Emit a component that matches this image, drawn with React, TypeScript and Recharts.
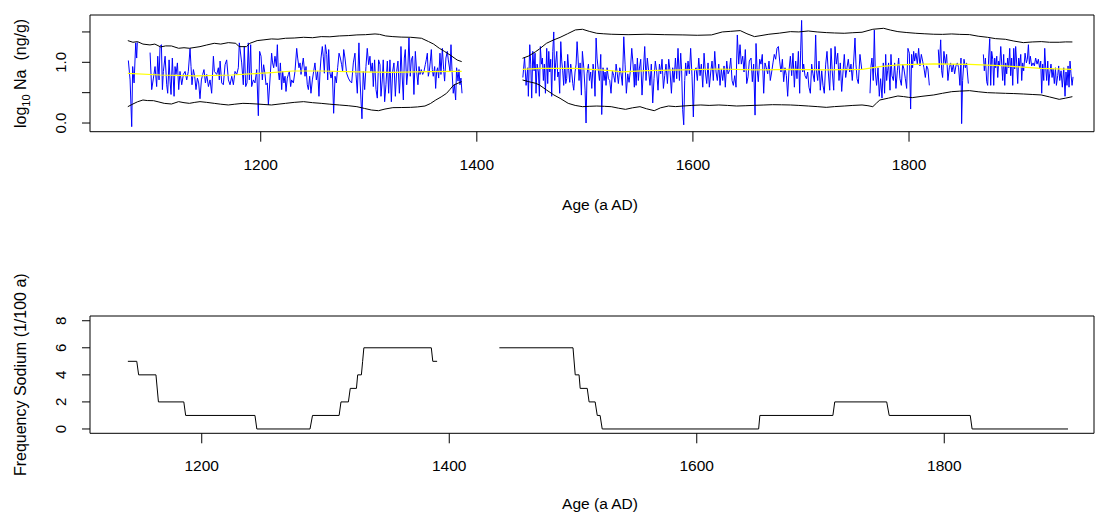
import React from 'react';
import { LineChart, Line, XAxis, YAxis, ReferenceArea } from 'recharts';

const FONT = '"Liberation Sans", Arial, Helvetica, sans-serif';

// ---- top panel: log10 Na (ng/g) ----
const naSeg1: [number, number | null][] = [
  [1077.5, 1.03], [1079.1, 0.71], [1080.6, -0.06], [1081.5, 0.93], [1082.8, 0.66], [1084.3, 1.32], [1085.2, 1.07], [1085.8, 1.33], [1091, null],
  [1097.6, 1.16], [1099.1, 0.55], [1100.7, 0.74], [1102.2, 0.93], [1103.7, 0.6], [1104.7, 1.1], [1105.9, 0.71], [1106.8, 1.26], [1108.1, 1.29],
  [1109, 0.55], [1109.9, 0.85], [1111.5, 1.1], [1113, 0.63], [1113.9, 0.49], [1115.2, 1.04], [1116.1, 0.69], [1117, 0.47], [1118.2, 1.07],
  [1119.8, 0.44], [1120.7, 0.93], [1121.6, 0.8], [1122.9, 0.99], [1124.1, 0.55], [1125.3, 0.85], [1126.9, 0.63], [1128.4, 0.8], [1130, 0.85],
  [1131.5, 0.71], [1133, 0.85], [1134.6, 1.23], [1135.5, 0.93], [1136.4, 0.63], [1137.7, 0.88], [1138.9, 0.77], [1140.1, 0.55], [1141.4, 0.74],
  [1142.6, 0.66], [1143.8, 0.4], [1145.1, 0.71], [1146.3, 0.8], [1147.5, 0.88], [1148.8, 0.66], [1150, 0.8], [1151.6, 0.6], [1153.1, 0.71],
  [1154.6, 0.49], [1156.2, 1.1], [1157.1, 0.85], [1159.3, 0.8], [1160.8, 0.91], [1161.7, 0.71], [1162.4, 1.02], [1163.9, 0.66], [1165.4, 0.63],
  [1167, 0.96], [1168.5, 1.04], [1170.1, 0.71], [1171.6, 0.63], [1173.2, 0.77], [1174.7, 0.63], [1176.2, 0.85], [1177.8, 0.8], [1179.3, 0.91],
  [1180.2, 1.32], [1182.4, 0.99], [1183.9, 0.63], [1184.8, 1.26], [1186.1, 0.6], [1187.3, 0.66], [1188.5, 1.32], [1189.5, 0.71], [1190.7, 1.29],
  [1191.6, 0.6], [1193.2, 0.71], [1194.7, 0.66], [1196.3, 0.88], [1197.8, 0.12], [1199, 1.18], [1200.3, 1.1], [1201.5, 0.71], [1202.7, 0.96],
  [1204, 0.8], [1204.9, 0.63], [1206.1, 0.66], [1207.1, 0.3], [1210.1, 1.15], [1211, 0.99], [1212, 0.91], [1213.2, 1.1], [1214.5, 0.93],
  [1215.4, 1.29], [1216.3, 0.85], [1217.2, 0.71], [1218.2, 0.99], [1219.4, 0.55], [1220.3, 0.85], [1221.5, 0.66], [1222.5, 0.77], [1223.4, 0.52],
  [1224.6, 0.74], [1225.6, 0.8], [1226.5, 0.85], [1227.7, 0.6], [1228.6, 0.71], [1230.2, 0.66], [1231.7, 0.85], [1233.3, 1.23], [1234.2, 1.07],
  [1235.4, 0.91], [1236.4, 0.99], [1237.3, 0.8], [1237.9, 0.88], [1239.4, 1.07], [1241, 0.77], [1241.9, 0.93], [1243.1, 0.63], [1244.1, 0.55],
  [1245.3, 0.77], [1246.5, 0.49], [1247.8, 0.71], [1249, 0.85], [1250.2, 0.99], [1251.5, 0.71], [1252.7, 0.85], [1253.9, 0.44], [1254.9, 0.85],
  [1255.8, 1.07], [1257, 1.26], [1257.9, 1.1], [1258.9, 0.82], [1259.8, 1.29], [1261.1, 1.13], [1262, 0.71], [1262.9, 1.21], [1263.8, 0.85],
  [1265.1, 0.74], [1266.3, 0.85], [1267.5, 0.16], [1268.8, 0.77], [1270, 0.66], [1271.2, 0.91], [1272.5, 1.15], [1273.7, 1.07], [1274.9, 0.96],
  [1275.8, 0.85], [1276.8, 1.21], [1278, 1.07], [1279.5, 0.82], [1281.1, 0.74], [1282.6, 0.69], [1284.2, 0.66], [1285.7, 0.99], [1287.2, 1.15],
  [1288.2, 0.8], [1289.4, 0.49], [1290.9, 1.32], [1291.9, 0.71], [1292.8, 0.38], [1293.7, 0.07], [1294.9, 0.85], [1296.2, 0.55], [1297.4, 0.93],
  [1298.6, 1.23], [1299.9, 0.96], [1301.1, 1.1], [1302, 0.85], [1303.3, 0.99], [1304.2, 0.6], [1305.4, 1.04], [1306.7, 0.55], [1307.9, 0.41],
  [1309.1, 1.04], [1310.4, 0.96], [1311.3, 0.44], [1312.5, 0.71], [1313.4, 1.04], [1314.7, 0.35], [1315.9, 0.63], [1317.2, 1.02], [1318.4, 0.49],
  [1319.6, 1.04], [1320.9, 0.35], [1322.1, 0.85], [1323.3, 0.99], [1324.6, 0.44], [1325.8, 0.85], [1327, 1.02], [1328.3, 0.49], [1328.9, 0.66],
  [1329.8, 1.26], [1330.7, 0.85], [1332, 0.38], [1332.9, 1.07], [1333.8, 1.21], [1335.1, 0.63], [1336, 0.82], [1337.2, 1.4], [1338.4, 0.77],
  [1339.4, 1.04], [1340.6, 1.1], [1341.8, 0.47], [1343.1, 1.18], [1344.3, 0.85], [1345.5, 0.63], [1346.5, 0.93], [1347.4, 0.8], [1348.6, 0.88],
  [1349.9, 0.8], [1351.1, 0.85], [1352.3, 0.96], [1353.2, 1.04], [1354.2, 1.15], [1355.1, 0.77], [1356, 0.85], [1357, 1.02], [1357.9, 1.21],
  [1358.8, 0.88], [1359.7, 0.77], [1361, 0.93], [1361.9, 0.57], [1362.8, 0.85], [1363.7, 0.91], [1364.7, 0.74], [1365.9, 1.15], [1366.8, 0.8],
  [1368.1, 1.23], [1369.3, 0.88], [1370.2, 0.69], [1371.4, 1.07], [1372.7, 1.18], [1373.6, 1.04], [1375.2, 0.85], [1376.1, 1.29], [1377, 0.88],
  [1378.2, 0.49], [1379.2, 0.63], [1380.4, 0.38], [1381.3, 0.91], [1382.6, 0.69], [1383.5, 0.88], [1384.4, 0.63], [1385.3, 0.74], [1386.3, 0.49],
];

const naSeg2: [number, number | null][] = [
  [1442.6, 0.75], [1444.2, 1.08], [1445.6, 0.62], [1447.1, 0.91], [1447.7, 0.44], [1449, 1.29], [1449.9, 0.97], [1450.8, 0.41], [1451.8, 1.18],
  [1453, 0.86], [1453.9, 1.15], [1454.8, 0.49], [1455.8, 0.97], [1457, 0.84], [1457.9, 0.44], [1458.8, 1.26], [1459.8, 0.97], [1460.7, 1.07],
  [1461.6, 0.7], [1462.5, 0.97], [1463.5, 0.49], [1464.7, 1.23], [1465.6, 0.65], [1466.6, 1.18], [1467.5, 0.84], [1468.4, 1.05], [1469.3, 0.44],
  [1470.3, 1.18], [1471.2, 1.5], [1472.1, 0.7], [1473, 0.99], [1474, 1.18], [1474.9, 0.76], [1475.8, 0.84], [1476.7, 0.49], [1477.7, 1.34],
  [1478.6, 1.02], [1479.5, 0.86], [1480.4, 0.62], [1481.4, 1.02], [1482.3, 0.65], [1483.2, 0.73], [1484.1, 1.13], [1485.1, 0.86], [1486, 0.67],
  [1486.9, 0.97], [1487.8, 0.84], [1488.8, 0.65], [1489.7, 0.54], [1490.9, 0.84], [1491.9, 0.97], [1492.8, 1.34], [1493.7, 1.07], [1494.6, 0.7],
  [1495.6, 0.99], [1496.8, 0.46], [1497.7, 1.18], [1499, 0.91], [1500.2, 0.54], [1501.1, 0.0], [1502, 0.81], [1503.3, 0.97], [1504.2, 0.7],
  [1505.4, 0.84], [1506.4, 0.57], [1507.6, 0.97], [1508.5, 0.84], [1509.4, 0.44], [1510.4, 1.4], [1511.3, 1.07], [1512.5, 0.86], [1513.5, 0.7],
  [1514.7, 1.13], [1515.6, 0.14], [1516.8, 0.91], [1517.8, 0.7], [1518.7, 0.84], [1519.6, 0.62], [1520.6, 0.91], [1521.8, 0.73], [1523, 0.7],
  [1524.2, 0.49], [1525.5, 0.86], [1526.7, 0.78], [1527.9, 0.67], [1528.9, 0.97], [1529.8, 0.84], [1531, 0.65], [1532.3, 0.91], [1533.5, 0.81],
  [1534.7, 0.62], [1536, 1.42], [1537.2, 0.97], [1538.4, 0.49], [1539.7, 0.81], [1540.9, 0.67], [1542.1, 0.86], [1543.4, 1.23], [1544.6, 0.97],
  [1545.8, 0.59], [1546.4, 0.97], [1547.4, 0.62], [1548.6, 1.07], [1549.5, 0.7], [1550.4, 0.89], [1551.7, 1.05], [1552.9, 0.46], [1554.1, 0.84],
  [1555.4, 1.26], [1556.6, 0.7], [1557.8, 1.07], [1559.1, 0.84], [1560.3, 0.62], [1561.5, 0.97], [1562.8, 0.33], [1564, 0.73], [1565.2, 1.02],
  [1566.5, 0.84], [1567.7, 0.54], [1569, 0.97], [1570.2, 0.81], [1571.4, 1.05], [1572.7, 0.57], [1573.9, 0.78], [1575.1, 0.97], [1576.4, 0.65],
  [1577.6, 1.05], [1578.8, 0.86], [1580.1, 0.49], [1581.3, 0.91], [1582.5, 0.67], [1583.8, 1.07], [1585, 0.73], [1586.2, 1.23], [1587.5, 0.7],
  [1588.7, 1.15], [1589.6, 0.84], [1590.5, 0.22], [1591.5, -0.03], [1592.4, 0.7], [1593.3, 0.99], [1594.2, 0.78], [1595.5, 1.02], [1596.7, 0.81],
  [1597.9, 1.23], [1599.2, 0.76], [1600.4, 0.1], [1601.6, 0.86], [1602.9, 0.91], [1604.1, 0.7], [1605.4, 1.07], [1606.6, 0.78], [1607.8, 0.97],
  [1609.1, 0.59], [1610.3, 1.15], [1611.5, 0.84], [1612.8, 0.65], [1614, 0.99], [1615.2, 0.59], [1616.5, 0.84], [1617.7, 1.02], [1618.9, 0.7],
  [1620.2, 1.18], [1621.4, 0.84], [1622.6, 0.7], [1623.9, 0.97], [1625.1, 0.62], [1626.3, 0.89], [1627.6, 0.7], [1628.8, 0.94], [1630, 0.59],
  [1631.3, 1.02], [1632.5, 0.81], [1633.7, 0.86], [1635, 1.07], [1636.2, 0.7], [1637.4, 0.62], [1638.7, 0.78], [1639.9, 0.59], [1641.1, 1.45],
  [1642.4, 0.97], [1643.6, 1.29], [1644.8, 0.97], [1646.1, 1.1], [1647.3, 0.84], [1648.5, 1.21], [1649.8, 0.65], [1651, 0.76], [1652.2, 1.02],
  [1653.8, 1.07], [1655, 0.68], [1656.2, 0.97], [1657.5, 0.13], [1658.4, 1.31], [1659.3, 0.91], [1660.5, 0.68], [1661.8, 1.05], [1663, 0.97],
  [1664.2, 1.13], [1665.5, 0.49], [1666.7, 0.99], [1667.9, 0.91], [1669.2, 0.81], [1670.4, 1.02], [1671.6, 0.7], [1672.9, 0.84], [1674.1, 0.99],
  [1675.3, 1.13], [1676.6, 1.05], [1677.8, 1.23], [1679.1, 1.26], [1680.3, 1.02], [1681.5, 0.84], [1682.8, 1.05], [1684, 0.68], [1685.2, 0.91],
  [1686.5, 0.78], [1687.7, 0.44], [1688.9, 0.86], [1690.2, 1.1], [1691.4, 0.78], [1692.6, 1.15], [1693.9, 0.59], [1695.1, 1.02], [1696.3, 0.73],
  [1697.6, 1.18], [1698.8, 0.49], [1699.7, 1.2], [1700.6, 1.69], [1701.6, 0.84], [1702.5, 0.97], [1703.7, 0.78], [1705, 0.73], [1706.2, 0.84],
  [1707.4, 0.59], [1708.7, 0.49], [1709.9, 0.97], [1711.1, 0.81], [1712.4, 0.68], [1713.6, 1.45], [1714.5, 0.84], [1715.5, 0.7], [1716.7, 1.02],
  [1717.9, 0.54], [1719.2, 0.86], [1720.4, 0.62], [1721.6, 0.49], [1722.9, 0.97], [1724.1, 1.18], [1725.3, 0.84], [1726.6, 0.54], [1727.8, 1.23],
  [1729, 0.84], [1730.3, 0.54], [1731.5, 1.26], [1732.7, 0.97], [1734, 1.15], [1735.2, 0.7], [1736.4, 0.99], [1737.7, 0.52], [1738.9, 0.84],
  [1740.1, 1.13], [1741.4, 0.75], [1742.6, 0.91], [1743.8, 1.05], [1745.1, 0.84], [1746.3, 0.97], [1747.5, 0.7], [1748.8, 1.02], [1750, 1.4],
  [1750.9, 0.97], [1751.9, 0.73], [1753.1, 0.65], [1754.6, 1.13], [1756.2, 0.89], [1760, null],
  [1763.9, 0.49], [1764.8, 0.94], [1765.7, 1.07], [1766.9, 0.7], [1767.9, 1.53], [1768.8, 0.84], [1770, 0.62], [1771.3, 0.91], [1772.5, 0.44],
  [1773.7, 0.73], [1775, 0.41], [1776.2, 0.99], [1777.4, 0.49], [1778.4, 1.13], [1779.3, 0.7], [1780.2, 0.86], [1781.1, 0.99], [1782.4, 0.54],
  [1783.3, 1.13], [1784.2, 0.78], [1785.5, 0.7], [1786.7, 0.99], [1787.9, 0.57], [1789.2, 0.86], [1790.4, 1.07], [1791.6, 0.73], [1792.9, 0.62],
  [1794.1, 0.97], [1795.3, 0.89], [1796.6, 0.73], [1797.8, 0.57], [1799, 1.23], [1800.3, 1.15], [1801.5, 0.23], [1802.4, 1.13], [1803.3, 0.91],
  [1804.3, 1.18], [1805.2, 1.02], [1806.4, 1.15], [1807.7, 0.97], [1808.9, 1.23], [1810.1, 0.94], [1811.4, 1.13], [1812.6, 1.02], [1813.8, 0.91],
  [1815.1, 0.75], [1816.3, 0.94], [1817.5, 0.89], [1818.8, 0.62], [1822, null],
  [1827.1, 1.21], [1828, 0.91], [1829.3, 1.37], [1830.2, 0.86], [1831.1, 0.75], [1832.3, 1.18], [1833.6, 0.97], [1834.8, 1.13], [1836, 0.7],
  [1837.3, 0.91], [1838.5, 0.99], [1839.7, 0.84], [1841, 0.97], [1842.2, 0.81], [1843.4, 0.94], [1844.7, 0.99], [1845.9, 0.91], [1847.1, 0.62],
  [1848.1, 1.07], [1848.7, -0.01], [1849.6, 0.7], [1850.9, 1.05], [1852.1, 0.91], [1853.3, 0.99], [1854.9, 0.65], [1861, null],
  [1868.8, 1.13], [1869.7, 0.86], [1870.7, 1.07], [1871.9, 0.68], [1872.8, 0.62], [1873.7, 1.07], [1874.7, 1.39], [1875.6, 0.62], [1876.5, 1.18],
  [1877.5, 1.05], [1878.4, 0.62], [1879.3, 1.07], [1880.2, 0.91], [1881.2, 1.1], [1882.1, 0.75], [1883, 1.02], [1883.9, 0.94], [1884.9, 1.26],
  [1885.8, 0.97], [1886.7, 0.7], [1887.6, 1.13], [1888.6, 0.62], [1889.5, 0.99], [1890.4, 0.81], [1891.3, 1.07], [1892.3, 0.91], [1893.2, 1.23],
  [1894.1, 0.78], [1895, 1.07], [1896, 0.62], [1896.9, 1.23], [1897.8, 0.89], [1898.7, 1.26], [1899.7, 0.97], [1900.6, 0.65], [1901.5, 1.07],
  [1902.4, 0.94], [1903.4, 1.13], [1904.3, 0.7], [1905.2, 0.99], [1906.1, 0.86], [1907.4, 1.15], [1908.6, 0.99], [1909.5, 1.05], [1910.5, 1.29],
  [1911.4, 0.97], [1912.3, 1.1], [1913.5, 0.94], [1914.8, 0.99], [1916, 0.94], [1917.2, 1.07], [1918.5, 0.97], [1919.7, 1.05], [1921, 0.89],
  [1921.9, 1.02], [1922.8, 0.49], [1923.7, 0.97], [1924.7, 0.7], [1925.6, 1.23], [1926.5, 0.91], [1927.4, 0.7], [1928.4, 1.02], [1929.3, 0.62],
  [1930.2, 0.81], [1931.4, 0.97], [1932.4, 0.75], [1933.3, 0.89], [1934.5, 0.65], [1935.5, 0.91], [1936.4, 0.62], [1937.6, 0.78], [1938.5, 0.94],
  [1939.5, 0.7], [1940.7, 0.86], [1941.9, 0.59], [1943.2, 0.91], [1944.4, 0.44], [1945.3, 0.84], [1946.2, 0.62], [1947.2, 0.94], [1948.1, 0.59],
  [1949, 1.02], [1949.9, 0.81], [1950.9, 0.62], [1951.8, 0.76],
];

const upperSeg1: [number, number][] = [
  [1077, 1.357], [1081.7, 1.33], [1086, 1.34], [1091, 1.3], [1097.5, 1.286], [1102, 1.3], [1107.4, 1.253], [1112, 1.27], [1117.4, 1.269],
  [1124, 1.231], [1129, 1.24], [1134, 1.231], [1143.8, 1.258], [1150, 1.285], [1157, 1.313], [1163, 1.3], [1170, 1.324], [1176.9, 1.313],
  [1180, 1.258], [1186.8, 1.258], [1190, 1.313], [1196.7, 1.357], [1203, 1.37], [1210, 1.385], [1216, 1.38], [1223, 1.396], [1231, 1.4],
  [1239.7, 1.412], [1248, 1.405], [1256, 1.423], [1264, 1.42], [1272.7, 1.434], [1281, 1.44], [1289, 1.451], [1297, 1.455], [1305.8, 1.467],
  [1310, 1.46], [1315.7, 1.434], [1322.3, 1.423], [1330, 1.415], [1338.8, 1.412], [1348.8, 1.396], [1355.4, 1.341], [1360, 1.3],
  [1365.3, 1.231], [1370, 1.18], [1375.2, 1.121], [1381.8, 1.038], [1386, 1.011],
];
const upperSeg2: [number, number][] = [
  [1442.3, 1.066], [1448, 1.104], [1454.5, 1.176], [1458, 1.22], [1464.5, 1.313], [1471.3, 1.37], [1477, 1.41], [1484, 1.47], [1491.2, 1.533],
  [1497.8, 1.544], [1504, 1.51], [1511, 1.478], [1517, 1.47], [1524.4, 1.462], [1540, 1.455], [1557.5, 1.462], [1574, 1.455], [1590.7, 1.451],
  [1604, 1.445], [1617.2, 1.451], [1627.2, 1.5], [1635, 1.51], [1643.8, 1.522], [1650, 1.47], [1657, 1.423], [1663, 1.44], [1670.3, 1.462],
  [1680, 1.48], [1690.2, 1.505], [1698, 1.5], [1706.8, 1.516], [1715, 1.5], [1723.4, 1.489], [1731, 1.483], [1740, 1.478], [1748, 1.487],
  [1756.5, 1.495], [1766.5, 1.544], [1776.5, 1.56], [1783, 1.53], [1789.7, 1.505], [1798, 1.49], [1806.3, 1.478], [1814, 1.47],
  [1822.9, 1.462], [1831, 1.46], [1839.5, 1.467], [1847, 1.46], [1856, 1.456], [1864, 1.43], [1872.6, 1.412], [1880, 1.39], [1889.2, 1.379],
  [1897, 1.35], [1905.8, 1.324], [1914, 1.335], [1922.4, 1.341], [1930, 1.33], [1939, 1.33], [1945, 1.336], [1951.2, 1.335],
];
const lowerSeg1: [number, number][] = [
  [1077, 0.269], [1081.7, 0.313], [1086, 0.35], [1091, 0.379], [1095, 0.37], [1100.8, 0.368], [1105, 0.35], [1110.7, 0.324], [1117.4, 0.313],
  [1124, 0.352], [1129, 0.335], [1134, 0.324], [1139, 0.34], [1143.8, 0.352], [1150, 0.34], [1157, 0.324], [1163, 0.31], [1170, 0.297],
  [1176, 0.31], [1183.5, 0.324], [1190, 0.32], [1196.7, 0.313], [1203, 0.305], [1210, 0.297], [1216, 0.31], [1223, 0.324], [1231, 0.34],
  [1239.7, 0.352], [1248, 0.335], [1256, 0.324], [1264, 0.31], [1272.7, 0.297], [1281, 0.285], [1289, 0.269], [1296, 0.24], [1302.5, 0.214],
  [1309, 0.203], [1315, 0.23], [1322.3, 0.253], [1330, 0.255], [1338.8, 0.258], [1345, 0.265], [1352, 0.28], [1357, 0.32], [1362, 0.379],
  [1367, 0.43], [1372, 0.489], [1375, 0.55], [1378.6, 0.626], [1386, 0.681],
];
const lowerSeg2: [number, number][] = [
  [1442.3, 0.709], [1448, 0.681], [1454.5, 0.654], [1458, 0.626], [1464.5, 0.544], [1471.3, 0.462], [1477, 0.407], [1484.6, 0.324],
  [1491, 0.29], [1497.8, 0.269], [1504, 0.275], [1511, 0.28], [1518, 0.275], [1524.4, 0.269], [1531, 0.245], [1537.6, 0.225], [1544, 0.25],
  [1551, 0.269], [1557, 0.235], [1564.2, 0.203], [1570, 0.25], [1577.4, 0.28], [1584, 0.27], [1590.7, 0.28], [1599, 0.29], [1607.3, 0.297],
  [1615, 0.29], [1624, 0.297], [1632, 0.29], [1640.5, 0.28], [1649, 0.285], [1657, 0.291], [1665, 0.296], [1673.6, 0.302], [1682, 0.3],
  [1690.2, 0.297], [1698, 0.29], [1706.8, 0.28], [1715, 0.27], [1723.4, 0.258], [1731, 0.27], [1740, 0.28], [1748, 0.29], [1756.5, 0.297],
  [1762, 0.285], [1766.5, 0.269], [1770, 0.33], [1773, 0.379], [1781, 0.41], [1789.7, 0.445], [1795, 0.435], [1799.7, 0.423], [1803, 0.418],
  [1812, 0.44], [1822.9, 0.462], [1831, 0.49], [1839.5, 0.516], [1847, 0.525], [1856, 0.533], [1864, 0.515], [1872.6, 0.5], [1880, 0.495],
  [1889.2, 0.489], [1897, 0.485], [1905.8, 0.478], [1914, 0.47], [1922.4, 0.462], [1930, 0.43], [1939, 0.39], [1945, 0.41], [1951.2, 0.434],
];
const meanSeg1: [number, number][] = [
  [1077, 0.819], [1107, 0.791], [1140, 0.775], [1173, 0.791], [1190, 0.808], [1210, 0.83], [1229.6, 0.857], [1256, 0.857], [1289, 0.841],
  [1322, 0.835], [1355, 0.846], [1386, 0.852],
];
const meanSeg2: [number, number][] = [
  [1442.3, 0.885], [1458, 0.901], [1491, 0.901], [1524, 0.863], [1534, 0.841], [1557.5, 0.863], [1590.7, 0.874], [1624, 0.89], [1657, 0.874],
  [1690, 0.885], [1723, 0.874], [1756.5, 0.885], [1773, 0.929], [1790, 0.956], [1823, 0.973], [1856, 0.967], [1889, 0.94], [1922, 0.901],
  [1951, 0.885],
];

// ---- bottom panel: frequency of sodium events per 100 a ----
const freqSeg1: [number, number][] = [
  [1140.3, 5], [1147.5, 5], [1149, 4], [1163, 4], [1165, 2], [1185.5, 2], [1187, 1], [1243, 1], [1244.5, 0], [1287.5, 0], [1289.5, 1],
  [1311, 1], [1312.5, 2], [1318.5, 2], [1320, 3], [1325, 3], [1326, 4], [1329, 4], [1330, 5], [1331, 6], [1385.5, 6], [1386.7, 5], [1390.2, 5],
];
const freqSeg2: [number, number][] = [
  [1440.5, 6], [1500, 6], [1501.8, 4], [1504.9, 4], [1505.8, 3], [1511.5, 3], [1513, 2], [1517.9, 2], [1519.6, 1], [1521.9, 1], [1523.6, 0],
  [1650, 0], [1651, 1], [1710, 1], [1711.5, 2], [1753.5, 2], [1755.5, 1], [1821, 1], [1822.5, 0], [1900, 0],
];

const yearTicks = [1200, 1400, 1600, 1800];
const naTicks = [0, 0.5, 1, 1.5];
const naTickLabels: Record<number, string> = { 0: '0.0', 1: '1.0' };
const freqTicks = [0, 2, 4, 6, 8];
const freqTickLabels: Record<number, string> = { 0: '0', 2: '2', 4: '4', 6: '6', 8: '8' };

const topXDomain: [number, number] = [1042, 1971.2];
const topYDomain: [number, number] = [-0.143, 1.779];
const botXDomain: [number, number] = [1109.7, 1921];
const botYDomain: [number, number] = [-0.32, 8.35];

const GAP = 1415;
const rows = (...segs: [number, number | null][][]) => {
  const out: { year: number; v: number | null }[] = [];
  segs.forEach((s, i) => {
    if (i > 0) out.push({ year: GAP, v: null });
    s.forEach(([year, v]) => out.push({ year, v }));
  });
  return out;
};

const naRows = rows(naSeg1, naSeg2);
const upperRows = rows(upperSeg1, upperSeg2);
const lowerRows = rows(lowerSeg1, lowerSeg2);
const meanRows = rows(meanSeg1, meanSeg2);
const freqRows = rows(freqSeg1, freqSeg2);

const RotTick = (props: any) => {
  const { y, payload, labels } = props;
  const label = labels[payload.value];
  if (label === undefined) return <g />;
  return (
    <text
      transform={`translate(66, ${y}) rotate(-90)`}
      textAnchor="middle"
      fontSize={15}
      fontFamily={FONT}
      fill="#000"
    >
      {label}
    </text>
  );
};

const xTickStyle = { fontSize: 15.5, fill: '#000', fontFamily: FONT };
const titleStyle: React.CSSProperties = { fontFamily: FONT };

const App = () => {
  return (
    <div style={{ position: 'absolute', left: 0, top: 0, width: 1102, height: 514, background: '#fff' }}>
      <div style={{ position: 'absolute', left: 0, top: 0 }}>
        <LineChart width={1102} height={257} margin={{ top: 15, right: 8, left: 30, bottom: 85.3 }}>
          <XAxis
            dataKey="year"
            type="number"
            domain={topXDomain}
            allowDataOverflow
            ticks={yearTicks}
            interval={0}
            axisLine={false}
            tickSize={10}
            tickMargin={17}
            tickLine={{ stroke: '#000' }}
            tick={xTickStyle}
            height={40}
          />
          <YAxis
            type="number"
            domain={topYDomain}
            allowDataOverflow
            ticks={naTicks}
            interval={0}
            axisLine={false}
            tickSize={8}
            tickLine={{ stroke: '#000' }}
            tick={<RotTick labels={naTickLabels} />}
            width={60}
          />
          <Line data={naRows} dataKey="v" stroke="#0000ff" strokeWidth={1} dot={false} activeDot={false} isAnimationActive={false} />
          <Line data={upperRows} dataKey="v" stroke="#000" strokeWidth={1} dot={false} activeDot={false} isAnimationActive={false} />
          <Line data={lowerRows} dataKey="v" stroke="#000" strokeWidth={1} dot={false} activeDot={false} isAnimationActive={false} />
          <Line data={meanRows} dataKey="v" stroke="#ffff00" strokeWidth={1.2} dot={false} activeDot={false} isAnimationActive={false} />
          <ReferenceArea
            x1={topXDomain[0]}
            x2={topXDomain[1]}
            y1={topYDomain[0]}
            y2={topYDomain[1]}
            fill="none"
            fillOpacity={0}
            stroke="#000"
            strokeWidth={1}
            ifOverflow="visible"
          />
        </LineChart>
      </div>
      <div style={{ position: 'absolute', left: 0, top: 257 }}>
        <LineChart width={1102} height={257} margin={{ top: 59, right: 8, left: 30, bottom: 40.7 }}>
          <XAxis
            dataKey="year"
            type="number"
            domain={botXDomain}
            allowDataOverflow
            ticks={yearTicks}
            interval={0}
            axisLine={false}
            tickSize={10}
            tickMargin={17}
            tickLine={{ stroke: '#000' }}
            tick={xTickStyle}
            height={40}
          />
          <YAxis
            type="number"
            domain={botYDomain}
            allowDataOverflow
            ticks={freqTicks}
            interval={0}
            axisLine={false}
            tickSize={8}
            tickLine={{ stroke: '#000' }}
            tick={<RotTick labels={freqTickLabels} />}
            width={60}
          />
          <Line data={freqRows} dataKey="v" stroke="#000" strokeWidth={1} dot={false} activeDot={false} isAnimationActive={false} />
          <ReferenceArea
            x1={botXDomain[0]}
            x2={botXDomain[1]}
            y1={botYDomain[0]}
            y2={botYDomain[1]}
            fill="none"
            fillOpacity={0}
            stroke="#000"
            strokeWidth={1}
            ifOverflow="visible"
          />
        </LineChart>
      </div>
      <svg width={1102} height={514} style={{ position: 'absolute', left: 0, top: 0, pointerEvents: 'none' }}>
        <text transform="translate(26, 73.4) rotate(-90)" textAnchor="middle" fontSize={16} fill="#000" style={titleStyle}>
          <tspan>log</tspan>
          <tspan dy={4} fontSize={11}>10</tspan>
          <tspan dy={-4}>{' Na\u00a0\u00a0(ng/g)'}</tspan>
        </text>
        <text x={600} y={209.5} textAnchor="middle" fontSize={15.5} fill="#000" style={titleStyle}>
          Age (a AD)
        </text>
        <text transform="translate(26, 374.7) rotate(-90)" textAnchor="middle" fontSize={16} fill="#000" style={titleStyle}>
          Frequency Sodium (1/100 a)
        </text>
        <text x={600} y={509} textAnchor="middle" fontSize={15.5} fill="#000" style={titleStyle}>
          Age (a AD)
        </text>
      </svg>
    </div>
  );
};

export default App;
